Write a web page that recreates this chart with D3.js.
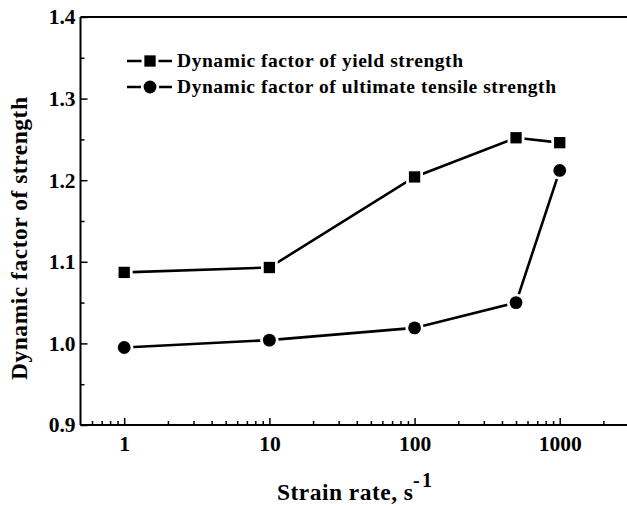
<!DOCTYPE html>
<html><head><meta charset="utf-8">
<script src="https://cdn.jsdelivr.net/npm/d3@7"></script>
<style>body{margin:0;background:#fff}svg{display:block}</style>
</head><body>
<script>
const strainRates = [1, 10, 100, 500, 1000];
const yieldFactor = [1.087, 1.093, 1.204, 1.252, 1.246];
const utsFactor = [0.995, 1.004, 1.019, 1.050, 1.212];
const xTickValues = [1, 10, 100, 1000];
const yTickValues = [0.9, 1.0, 1.1, 1.2, 1.3, 1.4];
const seriesNames = ["Dynamic factor of yield strength", "Dynamic factor of ultimate tensile strength"];

const W = 627, H = 506;
const FONT = "Liberation Serif, Times New Roman, serif";
const svg = d3.select("body").append("svg").attr("width", W).attr("height", H);

const x = d3.scaleLog().domain([0.5, 3000]).range([80.5, 629]);
const y = d3.scaleLinear().domain([0.9, 1.4]).range([425, 17]);

function spread(sel, len){
  sel.attr("textLength", len).attr("lengthAdjust","spacing");
}

// minor ticks
const xMinor = [];
for (let k = -1; k <= 3; k++) for (let m = 2; m <= 9; m++) { const v = m*Math.pow(10,k); if (v > 0.5 && v < 3000) xMinor.push(v); }
const yMinor = d3.range(0.95, 1.4, 0.1);

svg.append("g").attr("transform", `translate(0,${y(0.9)})`)
  .call(d3.axisBottom(x).tickValues(xMinor).tickSize(-4).tickFormat(""));
const gx2 = svg.append("g").attr("transform", `translate(0,${y(0.9)})`)
  .call(d3.axisBottom(x).tickValues(xTickValues).tickSize(-7).tickPadding(11).tickFormat(d3.format("d")));

svg.append("g").attr("transform", `translate(${x(0.5)},0)`)
  .call(d3.axisLeft(y).tickValues(yMinor).tickSize(-4).tickFormat(""));
const gy2 = svg.append("g").attr("transform", `translate(${x(0.5)},0)`)
  .call(d3.axisLeft(y).tickValues(yTickValues).tickSize(-7).tickPadding(5).tickFormat(d3.format(".1f")));
svg.selectAll(".domain").remove();
svg.selectAll(".tick line").attr("stroke","#000").attr("stroke-width",1.5);
svg.selectAll(".tick text").attr("font-family",FONT).attr("font-weight","bold").attr("font-size","21.5px").attr("fill","#000");

// frame lines: left, bottom, top
svg.append("line").attr("x1",x(0.5)).attr("x2",x(0.5)).attr("y1",y(1.4)).attr("y2",y(0.9)).attr("stroke","#000").attr("stroke-width",2);
svg.append("line").attr("x1",x(0.5)).attr("x2",W).attr("y1",y(0.9)).attr("y2",y(0.9)).attr("stroke","#000").attr("stroke-width",2);
svg.append("line").attr("x1",x(0.5)).attr("x2",W).attr("y1",y(1.4)).attr("y2",y(1.4)).attr("stroke","#000").attr("stroke-width",2);

const line = d3.line().x(d=>x(d[0])).y(d=>y(d[1]));
const sq = 11.3, r = 6.4, halo = 2.8;

function drawSquare(g, cx, cy){
  g.append("rect").attr("x",cx-sq/2-halo).attr("y",cy-sq/2-halo).attr("width",sq+2*halo).attr("height",sq+2*halo).attr("fill","#fff");
  g.append("rect").attr("x",cx-sq/2).attr("y",cy-sq/2).attr("width",sq).attr("height",sq).attr("fill","#000");
}
function drawCircle(g, cx, cy){
  g.append("circle").attr("cx",cx).attr("cy",cy).attr("r",r+halo).attr("fill","#fff");
  g.append("circle").attr("cx",cx).attr("cy",cy).attr("r",r).attr("fill","#000");
}

const d1 = strainRates.map((s,i)=>[s,yieldFactor[i]]);
const d2 = strainRates.map((s,i)=>[s,utsFactor[i]]);
svg.append("path").attr("d",line(d1)).attr("fill","none").attr("stroke","#000").attr("stroke-width",2.6);
svg.append("path").attr("d",line(d2)).attr("fill","none").attr("stroke","#000").attr("stroke-width",2.6);
const mk = svg.append("g");
d1.forEach(d=>drawSquare(mk, x(d[0]), y(d[1])));
d2.forEach(d=>drawCircle(mk, x(d[0]), y(d[1])));

// legend
const lg = svg.append("g");
const legY = [61, 87];
const legLen = [286, 379];
legY.forEach((ly,i)=>{
  lg.append("line").attr("x1",127).attr("x2",172).attr("y1",ly).attr("y2",ly).attr("stroke","#000").attr("stroke-width",2.6);
  if (i===0) drawSquare(lg,150,ly); else drawCircle(lg,150,ly);
  lg.append("text").attr("x",177).attr("y",ly+6).text(seriesNames[i])
    .attr("font-family",FONT).attr("font-weight","bold").attr("font-size","19.5px").call(spread, legLen[i]);
});

// axis titles
svg.append("text").attr("x",277).attr("y",500).attr("font-family",FONT).attr("font-weight","bold").attr("font-size","23.5px")
  .text("Strain rate, s").call(spread, 136);
svg.append("text").attr("x",413).attr("y",487).attr("font-family",FONT).attr("font-weight","bold").attr("font-size","20px")
  .text("-1").call(spread, 19);

svg.append("text").attr("transform","translate(27,238.5) rotate(-90)").attr("text-anchor","middle")
  .attr("font-family",FONT).attr("font-weight","bold").attr("font-size","23.5px").text("Dynamic factor of strength").call(spread, 283);
</script>
</body></html>
